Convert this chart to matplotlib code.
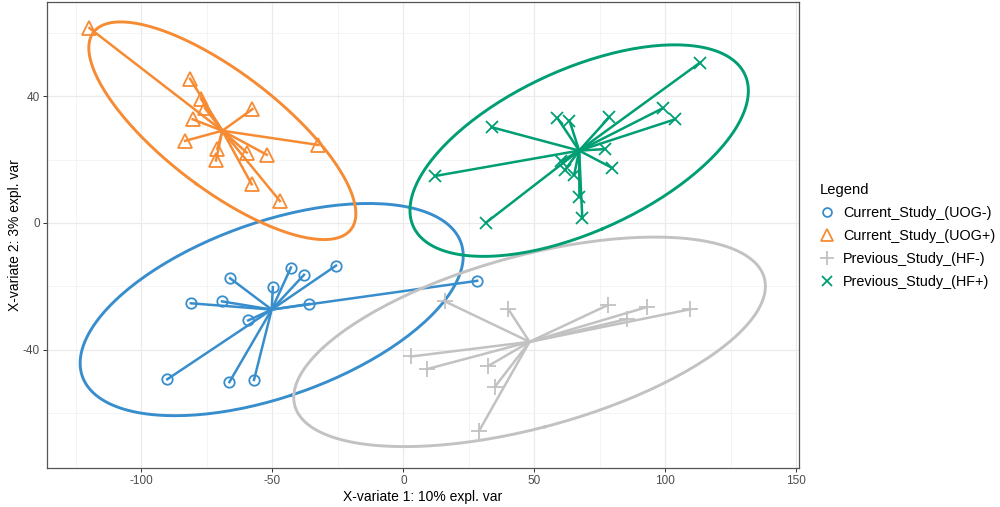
import numpy as np
import matplotlib
matplotlib.use("Agg")
import matplotlib.pyplot as plt
from matplotlib.lines import Line2D

plt.rcParams['font.family'] = ['Liberation Sans', 'DejaVu Sans']
plt.rcParams['axes.unicode_minus'] = False

# ---------------------------------- DATA ----------------------------------
groups = ["Current_Study_(UOG-)", "Current_Study_(UOG+)",
          "Previous_Study_(HF-)", "Previous_Study_(HF+)"]

uog_neg_x = [-66.1, -42.9, -37.9, -25.7, -49.8, -81.1, -69.2, -36.0, -59.2, -90.1, -66.4, -57.0, 28.2]
uog_neg_y = [-17.5, -14.1, -16.4, -13.5, -20.3, -25.4, -24.8, -25.6, -30.8, -49.4, -50.3, -49.6, -18.3]

uog_pos_x = [-119.8, -81.4, -77.2, -75.7, -80.4, -57.6, -83.3, -71.0, -71.5, -59.8, -52.1, -32.4, -57.9, -47.1]
uog_pos_y = [61.5, 45.5, 39.1, 36.2, 32.7, 35.9, 25.9, 23.4, 19.7, 22.2, 21.5, 24.6, 12.2, 6.9]

hf_neg_x = [15.9, 40.1, 78.2, 92.9, 85.3, 109.4, 2.9, 8.9, 32.4, 35.0, 28.9]
hf_neg_y = [-24.8, -27.3, -25.9, -26.6, -30.4, -27.3, -42.2, -46.2, -45.2, -51.7, -65.7]

hf_pos_x = [113.2, 33.7, 12.1, 31.6, 58.8, 63.4, 78.6, 99.0, 103.7, 77.0, 79.8, 60.2, 61.7, 65.2, 67.2, 68.3]
hf_pos_y = [50.6, 30.2, 14.8, 0.1, 33.1, 32.3, 33.4, 36.2, 32.7, 23.3, 17.3, 19.4, 16.7, 15.2, 8.3, 1.5]

xs = [uog_neg_x, uog_pos_x, hf_neg_x, hf_pos_x]
ys = [uog_neg_y, uog_pos_y, hf_neg_y, hf_pos_y]

colors = ["#388ECC", "#F68B33", "#C2C2C2", "#009E73"]
markers = ["o", "^", "+", "x"]
msizes = [7.5, 10, 12, 9]

x_ticks = [-100, -50, 0, 50, 100, 150]
y_ticks = [-40, 0, 40]


# -------------------------------- FUNCTIONS -------------------------------
def conf_ellipse(x, y, chi2_95=5.991, n=200):
    # 95% ellipse from the group's covariance, as mixOmics does
    pts = np.column_stack([x, y])
    centre = pts.mean(axis=0)
    cov = np.cov(pts, rowvar=False)
    vals, vecs = np.linalg.eigh(cov)
    t = np.linspace(0, 2 * np.pi, n)
    circle = np.vstack([np.cos(t), np.sin(t)])
    ell = vecs @ (np.sqrt(vals * chi2_95)[:, None] * circle)
    return ell[0] + centre[0], ell[1] + centre[1]


# ---------------------------------- PLOT ----------------------------------
fig = plt.figure(figsize=(10, 5.07), dpi=100)
ax = fig.add_axes([0.047, 0.077, 0.752, 0.920])

for gx, gy, col, mk, ms in zip(xs, ys, colors, markers, msizes):
    gx = np.array(gx)
    gy = np.array(gy)
    cx, cy = gx.mean(), gy.mean()
    ex, ey = conf_ellipse(gx, gy)
    ax.plot(ex, ey, color=col, lw=2.1, zorder=3)
    for px, py in zip(gx, gy):
        ax.plot([cx, px], [cy, py], color=col, lw=1.8, zorder=3)
    ax.plot(gx, gy, linestyle="none", marker=mk, markersize=ms,
            markerfacecolor="none", markeredgecolor=col, markeredgewidth=1.3, zorder=4)

ax.set_xlim(-136, 151)
ax.set_ylim(-77.4, 69.9)
ax.set_xticks(x_ticks)
ax.set_yticks(y_ticks)
ax.set_xticks([-125, -75, -25, 25, 75, 125], minor=True)
ax.set_yticks([-60, -20, 20, 60], minor=True)
ax.grid(which="major", color="#EBEBEB", lw=0.9, zorder=0)
ax.grid(which="minor", color="#F2F2F2", lw=0.6, zorder=0)
ax.set_axisbelow(True)
ax.tick_params(which="minor", length=0)
ax.tick_params(which="major", length=3, width=0.7, color="#333333",
               labelsize=8.5, labelcolor="#4D4D4D", pad=2)
for sp in ax.spines.values():
    sp.set_color("#555555")
    sp.set_linewidth(0.9)

ax.set_xlabel("X-variate 1: 10% expl. var", fontsize=10, labelpad=2)
ax.set_ylabel("X-variate 2: 3% expl. var", fontsize=10, labelpad=1)

handles = [Line2D([], [], linestyle="none", marker=mk, markersize=ms * 0.85,
                  markerfacecolor="none", markeredgecolor=col, markeredgewidth=1.3)
           for col, mk, ms in zip(colors, markers, msizes)]
leg = fig.legend(handles, groups, title="Legend", loc="upper left",
                 bbox_to_anchor=(0.814, 0.65), frameon=False, fontsize=10.4,
                 title_fontsize=10.6, handlelength=1.0, handletextpad=0.6,
                 labelspacing=0.62, borderaxespad=0, alignment="left")

fig.savefig("out.png", dpi=100)
